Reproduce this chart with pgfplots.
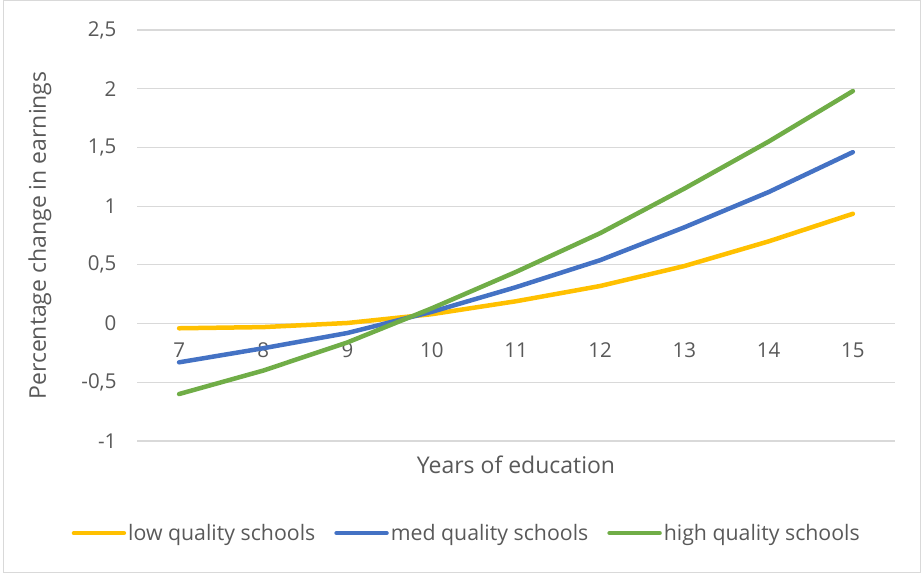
\documentclass[border=0pt]{standalone}
\usepackage{pgfplots}
\pgfplotsset{compat=1.18}
\usepackage{fontspec}
\setmainfont{Open Sans}
\definecolor{lowc}{HTML}{FFC000}
\definecolor{medc}{HTML}{4472C4}
\definecolor{highc}{HTML}{70AD47}
\definecolor{gridc}{HTML}{D9D9D9}
\definecolor{txt}{HTML}{595959}
\begin{document}
\begin{tikzpicture}[x=1pt,y=1pt]
\draw[gridc, line width=1pt] (3,1) rectangle (920,572);
\begin{axis}[
  at={(137pt,132pt)}, anchor=south west,
  scale only axis, width=758pt, height=411pt,
  xmin=6.5, xmax=15.5, ymin=-1, ymax=2.5,
  xtick={7,8,9,10,11,12,13,14,15},
  ytick={-1,-0.5,0,0.5,1,1.5,2,2.5},
  axis x line*=middle, axis y line*=left,
  axis line style={draw=none,-},
  hide obscured x ticks=false, hide obscured y ticks=false,
  major tick length=0pt,
  ymajorgrids, grid style={gridc, line width=1.2pt},
  /pgf/number format/use comma,
  /pgf/number format/1000 sep={},
  /pgf/number format/assume math mode=true,
  tick label style={font=\fontsize{20.5}{24}\selectfont, text=txt},
  xticklabel style={yshift=-16pt},
  yticklabel style={xshift=-17pt},
  xlabel={Years of education},
  ylabel={Percentage change in earnings},
  label style={font=\fontsize{23}{27}\selectfont, text=txt},
  x label style={at={(axis description cs:0.5,-0.058)}, anchor=center},
  y label style={at={(axis description cs:-0.128,0.5)}, anchor=center},
  clip=false,
  legend columns=3,
  legend style={at={(axis description cs:0.435,-0.224)}, anchor=center, draw=none, fill=none,
    font=\fontsize{21.3}{25}\selectfont, text=txt,
    /tikz/every even column/.append style={column sep=17pt}},
  legend image code/.code={\draw[#1, line width=4.5pt, line cap=round] (0pt,0pt) -- (50pt,0pt);},
  every axis plot/.append style={line width=4.5pt, line cap=round, line join=round},
]
\addplot[lowc] coordinates {(7,-0.04)(8,-0.03)(9,0.005)(10,0.08)(11,0.19)(12,0.32)(13,0.49)(14,0.70)(15,0.935)};
\addlegendentry{low quality schools}
\addplot[medc] coordinates {(7,-0.33)(8,-0.21)(9,-0.08)(10,0.10)(11,0.31)(12,0.54)(13,0.82)(14,1.12)(15,1.46)};
\addlegendentry{med quality schools}
\addplot[highc] coordinates {(7,-0.60)(8,-0.40)(9,-0.16)(10,0.13)(11,0.44)(12,0.77)(13,1.15)(14,1.55)(15,1.98)};
\addlegendentry{high quality schools}
\end{axis}
\pgfresetboundingbox
\path (0,0) rectangle (923,573);
\end{tikzpicture}
\end{document}
